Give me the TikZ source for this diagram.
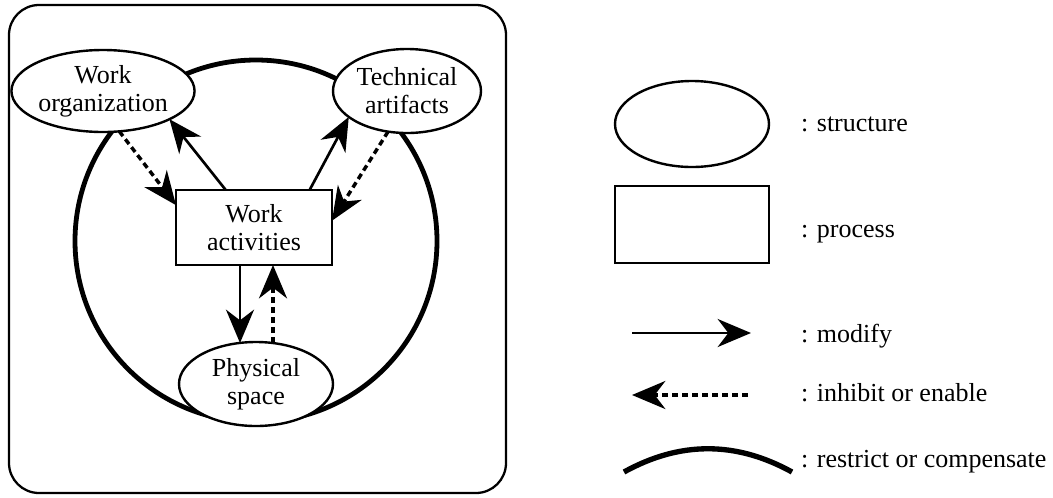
\documentclass[tikz,border=0pt]{standalone}
\usepackage{fontspec}
\setmainfont{Liberation Serif}
\usetikzlibrary{arrows.meta,shapes.geometric}
\begin{document}
\begin{tikzpicture}[x=0.75pt,y=-0.75pt,
  every node/.style={font=\fontsize{19.5}{21}\selectfont, inner sep=0pt, outer sep=0pt},
  structbox/.style={ellipse, draw, line width=1.8pt, fill=white, align=center},
  procbox/.style={rectangle, draw, line width=1.8pt, fill=white, align=center},
  tip/.style={-{Stealth[length=25pt,width=21pt,inset=8pt]}},
  modify/.style={line width=2pt, tip},
  inhibit/.style={line width=2.6pt, dash pattern=on 4.5pt off 3pt, tip},
  restrict/.style={line width=3.6pt},
  frame/.style={line width=1.7pt, rounded corners=22.5pt},
  legtext/.style={anchor=base west}]
\useasboundingbox (0,0) rectangle (1053,497);
% outer frame
\draw[frame] (9,5) rectangle (506,493);
% restrict / compensate circle
\draw[restrict] (256,241) circle [radius=181];
% nodes
\node[structbox, minimum width=117pt, minimum height=61.5pt] (wo) at (103,91) {Work\\organization};
\node[structbox, minimum width=111pt, minimum height=63pt] (ta) at (407,91) {Technical\\artifacts};
\node[procbox, minimum width=117pt, minimum height=56.25pt] (wa) at (254,227.5) {Work\\activities};
\node[structbox, minimum width=115.5pt, minimum height=63pt] (ps) at (256,384) {Physical\\space};
% connectors
\draw[modify] (wa.127) -- (wo.-23);
\draw[inhibit] (wo.-68) -- (wa.164);
\draw[modify] (wa.34) -- (ta.204);
\draw[inhibit] (ta.245) -- (wa.5.5);
\draw[modify] ([xshift=-10.5pt]wa.south) -- ([xshift=-12pt,yshift=-0.75pt]ps.north);
\draw[inhibit] ([xshift=12.75pt,yshift=-0.75pt]ps.north) -- ([xshift=14.25pt]wa.south);
% legend
\node[ellipse, draw, line width=1.8pt, minimum width=115.5pt, minimum height=64.5pt] (lgs) at (692,124) {};
\node[rectangle, draw, line width=1.8pt, minimum width=115.5pt, minimum height=57.75pt] (lgp) at (692,224.5) {};
\coordinate (m1) at (632,333);
\coordinate (m2) at (751,333);
\draw[modify] (m1) -- (m2);
\coordinate (i1) at (748,395);
\coordinate (i2) at (632,395);
\draw[inhibit] (i1) -- (i2);
\coordinate (r1) at (624,472);
\coordinate (r2) at (792,472);
\draw[restrict, line width=4pt] (r1) .. controls (680,441) and (736,441) .. (r2);
\node[legtext] (ts) at (801,131) {: structure};
\node[legtext] (tp) at (801,237) {: process};
\node[legtext] (tm) at (801,342) {: modify};
\node[legtext] (ti) at (801,401) {: inhibit or enable};
\node[legtext] (tr) at (801,467) {: restrict or compensate};
\end{tikzpicture}
\end{document}
